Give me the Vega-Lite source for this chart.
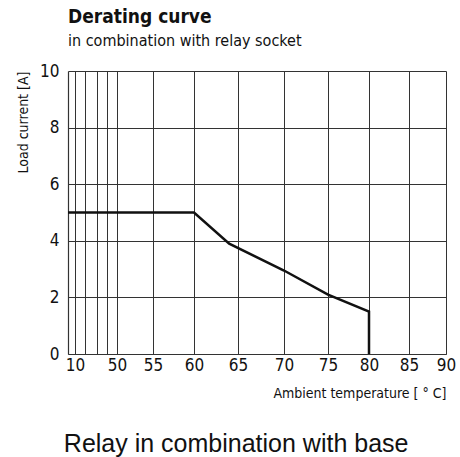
{
  "$schema": "https://vega.github.io/schema/vega-lite/v6.json",
  "padding": {"left": 16, "top": 8, "right": 5, "bottom": 0},
  "background": "white",
  "title": {
    "text": "Relay in combination with base",
    "orient": "bottom",
    "anchor": "middle",
    "font": "Liberation Sans",
    "fontSize": 25,
    "fontWeight": "normal",
    "color": "#111",
    "offset": 32
  },
  "config": {
    "view": {"stroke": null},
    "font": "'DejaVu Sans Condensed', Roboto, sans-serif"
  },
  "vconcat": [
    {
      "width": 378,
      "height": 283,
      "title": {
        "text": "Derating curve",
        "subtitle": "in combination with relay socket",
        "anchor": "start",
        "frame": "group",
        "font": "'DejaVu Sans Condensed', Roboto, sans-serif",
        "fontSize": 19,
        "fontWeight": "bold",
        "color": "#111",
        "subtitleFont": "'DejaVu Sans Condensed', Roboto, sans-serif",
        "subtitleFontSize": 16,
        "subtitleColor": "#111",
        "subtitlePadding": 6,
        "offset": 13
      },
      "data": {
        "values": [
          {"i": 0, "temp": 0, "current": 5},
          {"i": 1, "temp": 60, "current": 5},
          {"i": 2, "temp": 64, "current": 3.9},
          {"i": 3, "temp": 70, "current": 2.95},
          {"i": 4, "temp": 75, "current": 2.1},
          {"i": 5, "temp": 80, "current": 1.5},
          {"i": 6, "temp": 80, "current": 0}
        ]
      },
      "mark": {"type": "line", "color": "#111", "strokeWidth": 2.5, "strokeJoin": "miter"},
      "encoding": {
        "x": {
          "field": "temp",
          "type": "quantitative",
          "scale": {
            "domain": [0, 10, 20, 30, 40, 50, 55, 60, 65, 70, 75, 80, 85, 90],
            "range": [0, 7, 17, 29, 39, 49, 85, 126, 170, 216, 260, 301, 341, 378],
            "nice": false,
            "zero": false
          },
          "axis": {
            "values": [10, 20, 30, 40, 50, 55, 60, 65, 70, 75, 80, 85, 90],
            "labelExpr": "(datum.value == 20 || datum.value == 30 || datum.value == 40) ? '' : datum.label",
            "title": "Ambient temperature [ ° C]",
            "titleAnchor": "end",
            "titleFont": "'DejaVu Sans Condensed', Roboto, sans-serif",
            "titleFontSize": 14,
            "titleFontWeight": "normal",
            "titleColor": "#111",
            "titlePadding": 13,
            "labelFont": "'DejaVu Sans Condensed', Roboto, sans-serif",
            "labelFontSize": 17,
            "labelColor": "#111",
            "labelPadding": 3,
            "labelOverlap": false,
            "labelFlush": false,
            "ticks": false,
            "grid": true,
            "gridColor": "#333",
            "gridWidth": 1,
            "gridOpacity": 1,
            "domainColor": "#333",
            "domainWidth": 1.2
          }
        },
        "y": {
          "field": "current",
          "type": "quantitative",
          "scale": {"domain": [0, 10], "nice": false},
          "axis": {
            "values": [0, 2, 4, 6, 8, 10],
            "title": "Load current [A]",
            "titleAnchor": "end",
            "titleY": 0,
            "titleFont": "'DejaVu Sans Condensed', Roboto, sans-serif",
            "titleFontSize": 14,
            "titleFontWeight": "normal",
            "titleColor": "#111",
            "titlePadding": 9,
            "labelFont": "'DejaVu Sans Condensed', Roboto, sans-serif",
            "labelFontSize": 17,
            "labelColor": "#111",
            "labelPadding": 9,
            "labelFlush": false,
            "ticks": false,
            "grid": true,
            "gridColor": "#333",
            "gridWidth": 1,
            "gridOpacity": 1,
            "domainColor": "#333",
            "domainWidth": 1.2
          }
        },
        "order": {"field": "i", "type": "quantitative"}
      }
    }
  ]
}
